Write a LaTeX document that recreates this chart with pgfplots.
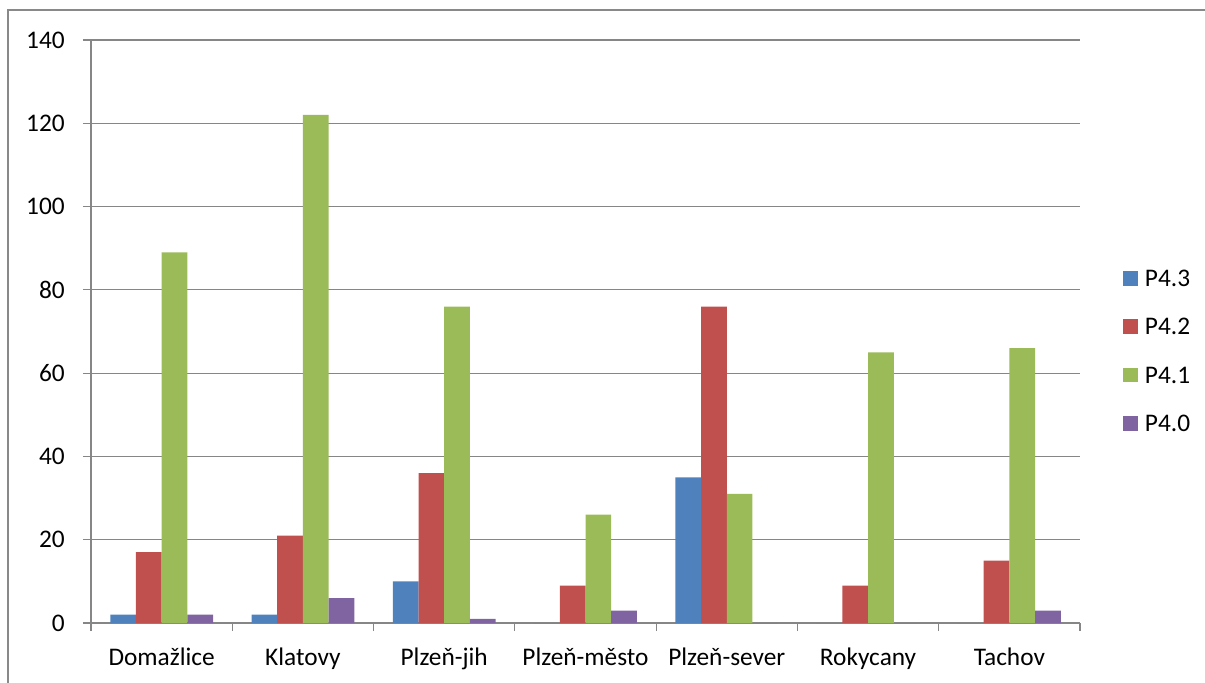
\documentclass[border=0pt]{standalone}
\usepackage{fontspec}
\setmainfont{Carlito}
\usepackage{pgfplots}
\pgfplotsset{compat=1.18}
\definecolor{s43}{HTML}{4F81BD}
\definecolor{s42}{HTML}{C0504D}
\definecolor{s41}{HTML}{9BBB59}
\definecolor{s40}{HTML}{8064A2}
\definecolor{axisgray}{HTML}{868686}
\definecolor{framegray}{HTML}{898989}
\pgfplotsset{
  sqlegend/.style={legend image code/.code={\fill[##1] (0pt,0.6pt) rectangle (11pt,11.6pt);}},
}
\begin{document}
\fontsize{19}{23}\selectfont
\begin{tikzpicture}
\useasboundingbox (0,0) rectangle (903.75pt,511.5pt);
% chart area frame
\draw[framegray, line width=1.5pt] (6.2pt,-2pt) -- (6.2pt,504pt) -- (906pt,504pt);
\begin{axis}[
  at={(68.25pt,44.25pt)}, anchor=south west,
  scale only axis, width=741.75pt, height=437.25pt,
  ybar=0pt, bar width=19.27pt,
  xmin=-0.5, xmax=6.5, ymin=0, ymax=140,
  ytick={0,20,...,140},
  xtick={0,...,6},
  xticklabels={Domažlice,Klatovy,Plzeň-jih,Plzeň-město,Plzeň-sever,Rokycany,Tachov},
  minor xtick={-0.5,0.5,...,6.5},
  every major x tick/.append style={draw=none},
  axis x line*=bottom, axis y line*=left,
  axis line style={axisgray, line width=0.9pt, -},
  tick style={axisgray, line width=0.9pt},
  tick align=outside,
  major tick length=6pt, minor tick length=6pt,
  ymajorgrids,
  major grid style={axisgray, line width=0.9pt},
  /pgf/number format/assume math mode=true,
  tick label style={font=\fontsize{19}{23}\selectfont, inner sep=0pt},
  yticklabel style={anchor=east, xshift=-13.5pt},
  xticklabel style={anchor=base, yshift=-25.5pt},
  legend style={draw=none, fill=none, at={(1.0432,0.6055)}, anchor=north west,
    inner sep=0pt, row sep=24pt, column sep=5.5pt,
    font=\fontsize{19}{23}\selectfont,
    nodes={inner sep=0pt, text height=12.2pt, text depth=0pt, anchor=base west}},
  legend cell align=left,
]
\addplot[fill=s43, draw=none, sqlegend] coordinates {(0,2) (1,2) (2,10) (3,0) (4,35) (5,0) (6,0)};
\addplot[fill=s42, draw=none, sqlegend] coordinates {(0,17) (1,21) (2,36) (3,9) (4,76) (5,9) (6,15)};
\addplot[fill=s41, draw=none, sqlegend] coordinates {(0,89) (1,122) (2,76) (3,26) (4,31) (5,65) (6,66)};
\addplot[fill=s40, draw=none, sqlegend] coordinates {(0,2) (1,6) (2,1) (3,3) (4,0) (5,0) (6,3)};
\legend{P4.3,P4.2,P4.1,P4.0}
\end{axis}
\end{tikzpicture}
\end{document}
